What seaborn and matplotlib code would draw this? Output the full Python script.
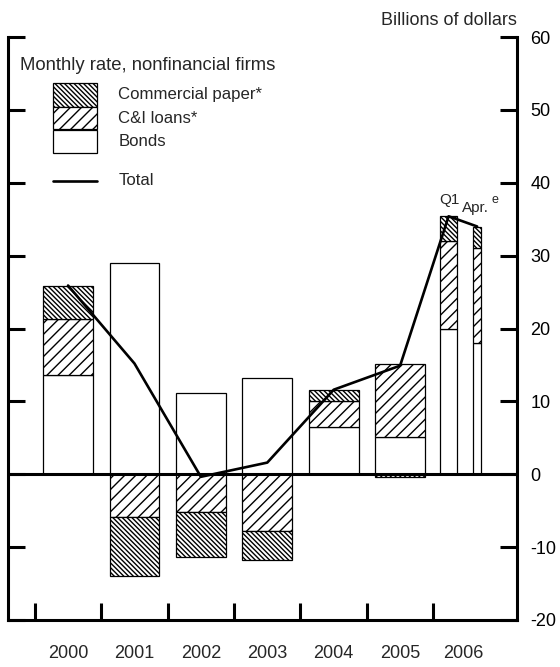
import matplotlib
matplotlib.use("Agg")
import matplotlib.pyplot as plt
from matplotlib.patches import Rectangle
from matplotlib.lines import Line2D
import numpy as np
import pandas as pd
import seaborn as sns

# ---- data ----
periods = ["2000", "2001", "2002", "2003", "2004", "2005", "2006 Q1", "2006 Apr"]
bonds = [13.6, 29.0, 11.1, 13.2, 6.5, 5.1, 20.0, 18.0]
ci_loans = [7.7, -5.8, -5.2, -7.8, 3.5, 10.0, 12.0, 13.0]
comm_paper = [4.6, -8.1, -6.2, -3.9, 1.5, -0.4, 3.4, 2.9]
total = [25.9, 15.2, -0.35, 1.6, 11.6, 14.9, 35.4, 34.0]
year_labels = ["2000", "2001", "2002", "2003", "2004", "2005", "2006"]
ytick_values = [60, 50, 40, 30, 20, 10, 0, -10, -20]

# ---- layout (positions in axis units) ----
bar_pos = [0, 1, 2, 3, 4, 5, 5.73, 6.16]
bar_width = [0.75, 0.75, 0.75, 0.75, 0.75, 0.75, 0.256, 0.12]
xtick_pos = [-0.5, 0.5, 1.5, 2.5, 3.5, 4.5, 5.5]
ylabel_pos = [0, 1, 2, 3, 4, 5, 5.95]

sns.set_theme(style="white")
plt.rcParams["font.family"] = ["Liberation Sans", "DejaVu Sans"]
plt.rcParams["hatch.linewidth"] = 1.0
plt.rcParams["hatch.color"] = "black"

HATCH_CP = "\\" * 7
HATCH_CI = "///"

W, H = 560, 667
fig = plt.figure(figsize=(W / 100, H / 100), dpi=100)
L, R, T, B = 8, 517, 37, 620
ax = fig.add_axes([L / W, 1 - B / H, (R - L) / W, (B - T) / H])

df = pd.DataFrame({"period": periods, "bonds": bonds, "ci": ci_loans,
                   "cp": comm_paper, "total": total, "x": bar_pos, "w": bar_width})

pos_base = np.zeros(len(df))
neg_base = np.zeros(len(df))
series = [("bonds", ""), ("ci", HATCH_CI), ("cp", HATCH_CP)]
for col, hatch in series:
    vals = df[col].to_numpy()
    bottoms = np.where(vals >= 0, pos_base, neg_base)
    ax.bar(df["x"], vals, width=df["w"], bottom=bottoms, color="white",
           edgecolor="black", linewidth=0.9, hatch=hatch, zorder=2)
    pos_base = pos_base + np.where(vals >= 0, vals, 0)
    neg_base = neg_base + np.where(vals < 0, vals, 0)

ax.axhline(0, color="black", lw=2.2, zorder=3)
sns.lineplot(data=df, x="x", y="total", color="black", lw=1.9, ax=ax,
             sort=False, zorder=4)

ax.set_xlim(-0.904, 6.76)
ax.set_ylim(-20, 60)
ax.set_xlabel("")
ax.set_ylabel("")

ax.spines["top"].set_visible(False)
for s in ["left", "right", "bottom"]:
    ax.spines[s].set_visible(True)
    ax.spines[s].set_color("black")
    ax.spines[s].set_linewidth(2.2)

ax.set_yticks(ytick_values)
ax.set_yticklabels([str(v) for v in ytick_values])
ax.set_yticks([60], minor=True)
ax.tick_params(axis="y", which="major", direction="in", length=12.5, width=2.2,
               left=True, right=True, labelleft=False, labelright=True,
               labelsize=13, pad=9.5, colors="black")
ax.tick_params(axis="y", which="minor", direction="in", length=19.5, width=2.2,
               left=True, right=True, labelleft=False, labelright=False,
               colors="black")
ax.set_xticks(xtick_pos)
ax.set_xticklabels([])
ax.tick_params(axis="x", which="major", direction="in", length=12.5, width=2.2,
               bottom=True, colors="black")
ax.tick_params(axis="x", which="minor", bottom=False)
for xp, lab in zip(ylabel_pos, year_labels):
    ax.text(xp, -24.6, lab, ha="center", va="center", fontsize=13,
            clip_on=False)

ax.text(5.74, 37.7, "Q1", ha="center", va="center", fontsize=11)
ax.text(6.14, 36.6, "Apr.", ha="center", va="center", fontsize=11)
ax.text(6.43, 37.7, "e", ha="center", va="center", fontsize=9)

# header
fig.text(517 / W, 1 - 20.5 / H, "Billions of dollars", ha="right", va="center",
         fontsize=13)

# legend (drawn manually)
def fx(px):
    return px / W

def fy(py):
    return 1 - py / H

fig.text(fx(20), fy(66), "Monthly rate, nonfinancial firms", ha="left",
         va="center", fontsize=13.3)
legend_items = [("Commercial paper*", HATCH_CP, 83, 107, 95),
                ("C&I loans*", HATCH_CI, 107, 128.5, 118.5),
                ("Bonds", "", 130, 152.5, 142)]
for label, hatch, y0, y1, yc in legend_items:
    fig.patches.append(Rectangle((fx(53), fy(y1)), fx(97) - fx(53),
                                 fy(y0) - fy(y1), transform=fig.transFigure,
                                 facecolor="white", edgecolor="black",
                                 linewidth=0.9, hatch=hatch))
    fig.text(fx(118.5), fy(yc), label, ha="left", va="center", fontsize=12.1)
fig.lines.append(Line2D([fx(53), fx(97)], [fy(181), fy(181)],
                        transform=fig.transFigure, color="black", lw=1.9))
fig.text(fx(118.5), fy(181), "Total", ha="left", va="center", fontsize=12.1)

fig.savefig("out.png", dpi=100, facecolor="white")
